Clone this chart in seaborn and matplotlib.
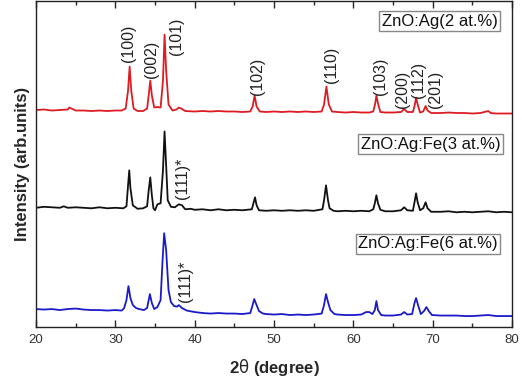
import numpy as np
import pandas as pd
import matplotlib
matplotlib.use('Agg')
import matplotlib.pyplot as plt
import seaborn as sns

## 데이터 (2theta, intensity arb.units)
x_red = [20.0, 21, 22, 23, 24, 24.2, 25, 26, 27, 28, 29, 30, 30.8, 31.3, 31.6, 31.8, 32.0, 32.3, 32.8,
         33.5, 34.0, 34.2, 34.4, 34.6, 34.9, 35.3, 35.7, 36.0, 36.2, 36.4, 36.7, 37.2, 37.7, 38.0, 38.3,
         38.8, 40, 41, 42, 43, 44, 45, 46, 47.0, 47.3, 47.55, 47.8, 48.2, 49, 50, 51, 52, 53, 54, 55,
         56.0, 56.3, 56.6, 56.9, 57.3, 58, 59, 60, 61, 62, 62.5, 62.75, 62.9, 63.1, 63.4, 64, 65, 66.0,
         66.4, 66.8, 67.5, 67.75, 67.9, 68.1, 68.4, 68.8, 69.1, 69.35, 69.8, 71, 72, 73, 74, 75, 76, 77,
         77.3, 78, 79, 80]
y_red = [217.5, 218, 217, 217.5, 218, 220, 217, 217, 216.5, 217, 216.5, 217, 217, 219, 237, 261, 237, 219, 216.5,
         216.5, 219, 232, 247, 232, 220, 220.5, 220, 247, 293, 257, 223, 217, 218, 220, 219,
         216.5, 216, 216.5, 216, 216.5, 216, 216, 215.5, 216, 221, 232, 221, 216, 215.5, 216, 215.5, 216, 215.5, 216, 215.5,
         216, 223, 241, 223, 216, 215.5, 215, 215.5, 215, 215, 216, 224, 232, 224, 215.5, 215, 215, 215.5,
         218.5, 215.5, 215.5, 223, 230, 223, 215, 216, 221.5, 217, 214.5, 214.5, 215, 214.5, 214.5, 214, 214.5, 216.5,
         214.5, 214, 214, 214]

x_black = [20, 21, 22, 23, 23.5, 24, 25, 26, 27, 28, 29, 30, 31.0, 31.4, 31.6, 31.75, 31.9, 32.2, 32.8,
           33.5, 34.0, 34.2, 34.4, 34.6, 34.8, 35.0, 35.3, 35.7, 36.0, 36.2, 36.4, 36.6, 37.0, 37.5, 38.0,
           38.4, 38.8, 39.5, 40, 41, 42, 43, 44, 45, 46, 47.2, 47.4, 47.6, 47.8, 48.1, 49, 50, 51, 52, 53,
           54, 55, 56.1, 56.3, 56.55, 56.8, 57.0, 57.5, 58, 59, 60, 61, 62, 62.5, 62.7, 62.9, 63.1, 63.4,
           64, 65, 66.0, 66.4, 66.8, 67.5, 67.75, 67.9, 68.1, 68.4, 68.8, 69.1, 69.35, 69.8, 71, 72, 73,
           74, 75, 76, 77, 78, 79, 80]
y_black = [119.5, 120.5, 120, 119.5, 121, 119.5, 120, 119.5, 119, 120, 119, 119.5, 119, 121, 142, 157, 139, 122, 118.5,
           119, 121, 137, 150, 132, 119, 117, 123, 124, 157, 196, 162, 127, 120.5, 120, 123,
           122, 118, 118.5, 117.5, 118, 117, 118, 117, 117.5, 117, 118, 124, 130, 122, 117, 116.5, 117, 116.5, 117, 116.5,
           117, 116.5, 118, 127, 142, 127, 119, 116.5, 116, 116.5, 116, 116.5, 116, 118, 124, 132, 124, 117.5,
           116, 116, 117, 120, 117, 116.5, 127, 134, 125, 117, 119, 125, 119, 115.5, 115.5, 116, 115,
           115.5, 115, 115.5, 116, 115, 115.5, 115]

x_blue = [20, 21, 22, 23, 24, 25, 26, 27, 28, 29, 30, 30.8, 31.1, 31.4, 31.65, 31.9, 32.2, 32.6, 33,
          33.6, 34.0, 34.2, 34.35, 34.6, 34.9, 35.3, 35.7, 35.95, 36.15, 36.4, 36.7, 37.0, 37.4, 37.8, 38.0,
          38.4, 39, 40, 41, 42, 43, 44, 45, 46, 47.0, 47.3, 47.5, 47.75, 48.1, 48.6, 49, 50, 51, 52, 53,
          54, 55, 56.0, 56.3, 56.55, 56.8, 57.1, 57.6, 58, 59, 60, 61, 61.6, 62.0, 62.4, 62.7, 62.9, 63.1,
          63.5, 64, 65, 66.0, 66.4, 66.8, 67.4, 67.7, 67.9, 68.15, 68.5, 68.9, 69.2, 69.5, 69.9, 71, 72,
          73, 74, 75, 76, 77, 78, 79, 80]
y_blue = [18, 17.5, 18, 17, 18, 18.5, 17.5, 17, 17, 16.5, 17, 16.5, 19, 27, 41, 29, 22, 19, 18,
          17, 19, 27, 33, 24, 18, 20, 27, 67, 94, 77, 37, 25, 21, 20.5, 22,
          19, 16.5, 15, 14, 13.5, 14, 13.5, 13.5, 13, 14, 22, 28, 23, 16, 13.5, 13, 12.5, 13, 12, 12.5,
          12, 12.5, 13.5, 22, 33, 25, 17, 13, 12.5, 12, 12, 12.5, 15, 15, 13, 17, 26, 17,
          12, 11.5, 11.5, 12.5, 15, 12.5, 13, 24, 29, 22, 13, 16, 20, 16, 12, 11.5, 11.5,
          11.5, 11, 11, 11.5, 12, 11, 11, 11]

## 피크 라벨
hkl_labels = ['(100)', '(002)', '(101)', '(102)', '(110)', '(103)', '(200)', '(112)', '(201)']
hkl_x = [31.6, 34.5, 37.75, 47.9, 57.3, 63.4, 66.2, 68.2, 70.3]
hkl_y = [266, 250, 273, 233, 245, 233, 220, 230, 220]

star_x = [38.4, 38.8]
star_y = [128, 25]

sample_names = ['ZnO:Ag(2 at.%)', 'ZnO:Ag:Fe(3 at.%)', 'ZnO:Ag:Fe(6 at.%)']
name_x = [70.9, 69.7, 69.4]
name_y = [306.5, 183, 83.5]

## 스타일
sns.set_style('ticks')
plt.rcParams['font.family'] = ['Liberation Sans', 'DejaVu Sans']
plt.rcParams['axes.linewidth'] = 1.0

fig = plt.figure(figsize=(5.22, 3.84), dpi=100)
ax = fig.add_axes([0.069, 0.1484, 0.912, 0.8496])

sns.lineplot(x=x_red, y=y_red, color='#dd1c22', lw=1.3, estimator=None, ax=ax)
sns.lineplot(x=x_black, y=y_black, color='#111111', lw=1.3, estimator=None, ax=ax)
sns.lineplot(x=x_blue, y=y_blue, color='#1a1ac8', lw=1.3, estimator=None, ax=ax)

for lab, xx, yy in zip(hkl_labels, hkl_x, hkl_y):
    ax.text(xx, yy, lab, rotation=90, ha='center', va='bottom', fontsize=11.5, color='#222222')

for xx, yy in zip(star_x, star_y):
    ax.text(xx, yy, '(111)*', rotation=90, ha='center', va='bottom', fontsize=11.5, color='#222222')

for name, xx, yy in zip(sample_names, name_x, name_y):
    ax.text(xx, yy, name, ha='center', va='center', fontsize=12, color='#111111',
            bbox=dict(boxstyle='square,pad=0.15', fc='white', ec='#888888', lw=1.0))

ax.set_xlim(20, 80)
ax.set_ylim(0, 327)
ax.set_xticks([20, 30, 40, 50, 60, 70, 80])
ax.set_xticks(np.arange(25, 80, 10), minor=True)
ax.set_yticks([])
ax.tick_params(axis='x', which='major', direction='in', length=5, width=1, labelsize=9.5,
               labelcolor='#333333', top=True, pad=5)
ax.tick_params(axis='x', which='minor', direction='in', length=3, width=1, top=True)
for s in ax.spines.values():
    s.set_visible(True)
    s.set_color('#222222')

ax.set_xlabel(r'2$\mathrm{\theta}$ (degree)', fontsize=12, fontweight='bold', labelpad=8)
ax.set_ylabel('Intensity (arb.units)', fontsize=12, fontweight='bold', labelpad=4)

fig.savefig('out.png', dpi=100)
